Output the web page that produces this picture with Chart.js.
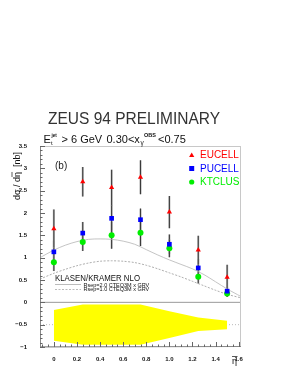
<!DOCTYPE html>
<html>
<head>
<meta charset="utf-8">
<script src="https://cdn.jsdelivr.net/npm/chart.js@4"></script>
<style>
  html, body { margin: 0; padding: 0; background: #fff; }
  #wrap { width: 289px; height: 374px; }
</style>
</head>
<body>
<div id="wrap"><canvas id="c" width="289" height="374"></canvas></div>
<script>
// eta bins
const etaBins = [0, 0.25, 0.5, 0.75, 1.0, 1.25, 1.5];

const eucell = [1.65, 2.7, 2.57, 2.8, 2.02, 1.17, 0.56];
const eucellErr = [0.43, 0.33, 0.4, 0.38, 0.36, 0.32, 0.28];
const pucell = [1.13, 1.55, 1.88, 1.85, 1.3, 0.77, 0.25];
const pucellErr = [0.25, 0.25, 0.3, 0.25, 0.22, 0.2, 0.1];
const ktclus = [0.9, 1.35, 1.5, 1.56, 1.21, 0.57, 0.2];
const ktclusErr = [0.2, 0.2, 0.3, 0.3, 0.2, 0.15, 0.08];

// NLO curves
const curveX = [-0.12, 0, 0.1, 0.2, 0.3, 0.4, 0.5, 0.6, 0.7, 0.8, 0.9, 1.0, 1.1, 1.2, 1.3, 1.4, 1.5, 1.62];
const rsep20 = [1.0, 1.17, 1.28, 1.36, 1.41, 1.42, 1.41, 1.37, 1.3, 1.18, 1.06, 0.95, 0.85, 0.75, 0.62, 0.46, 0.3, 0.13];
const rsep10 = [0.52, 0.65, 0.74, 0.82, 0.88, 0.92, 0.93, 0.92, 0.89, 0.83, 0.75, 0.66, 0.57, 0.47, 0.37, 0.27, 0.18, 0.1];

// energy scale uncertainty band, centred on -0.5
const bandUpper = [-0.17, -0.05, -0.05, -0.05, -0.2, -0.34, -0.41];
const bandLower = [-0.86, -0.95, -0.95, -0.95, -0.8, -0.64, -0.6];

const xMajor = [0, 0.2, 0.4, 0.6, 0.8, 1.0, 1.2, 1.4, 1.6];
const yMajor = [-1, -0.5, 0, 0.5, 1, 1.5, 2, 2.5, 3, 3.5];

const pts = (xs, ys) => xs.map((x, i) => ({ x: x, y: ys[i] }));

const FONT = '"Liberation Sans", Arial, sans-serif';

const extras = {
  id: "extras",
  beforeDatasetsDraw(chart) {
    const ctx = chart.ctx;
    const xs = chart.scales.x, ys = chart.scales.y;
    const a = chart.chartArea;
    ctx.save();
    // zero line and -0.5 dotted line
    ctx.strokeStyle = "#999";
    ctx.lineWidth = 1;
    ctx.beginPath();
    ctx.moveTo(a.left, ys.getPixelForValue(0));
    ctx.lineTo(a.right, ys.getPixelForValue(0));
    ctx.stroke();
    ctx.setLineDash([1, 2]);
    ctx.strokeStyle = "#bbb";
    ctx.beginPath();
    ctx.moveTo(a.left, ys.getPixelForValue(-0.5));
    ctx.lineTo(a.right, ys.getPixelForValue(-0.5));
    ctx.stroke();
    ctx.setLineDash([]);
    // error bars
    const series = [[pucell, pucellErr], [ktclus, ktclusErr], [eucell, eucellErr]];
    series.forEach(([vals, errs]) => {
      vals.forEach((v, i) => {
        const px = xs.getPixelForValue(etaBins[i]);
        ctx.strokeStyle = "#c4c4c4";
        ctx.lineWidth = 2.2;
        ctx.beginPath();
        ctx.moveTo(px, ys.getPixelForValue(v - errs[i]));
        ctx.lineTo(px, ys.getPixelForValue(v + errs[i]));
        ctx.stroke();
        ctx.strokeStyle = "#3a3a3a";
        ctx.lineWidth = 1.1;
        ctx.beginPath();
        ctx.moveTo(px, ys.getPixelForValue(v - errs[i]));
        ctx.lineTo(px, ys.getPixelForValue(v + errs[i]));
        ctx.stroke();
      });
    });
    ctx.restore();
  },
  afterDraw(chart) {
    const ctx = chart.ctx;
    const xs = chart.scales.x, ys = chart.scales.y;
    const a = chart.chartArea;
    ctx.save();
    // frame
    ctx.strokeStyle = "#c8c8c8";
    ctx.lineWidth = 1;
    ctx.strokeRect(a.left + 0.5, a.top + 0.5, a.right - a.left - 1, a.bottom - a.top - 1);
    ctx.strokeStyle = "#888";
    ctx.beginPath();
    ctx.moveTo(a.left + 0.5, a.top);
    ctx.lineTo(a.left + 0.5, a.bottom);
    ctx.lineTo(a.right, a.bottom - 0.5);
    ctx.stroke();
    // inward ticks
    ctx.strokeStyle = "#666";
    for (let k = -2; k <= 32; k++) {
      const v = k * 0.05;
      if (v < xs.min || v > xs.max) continue;
      const px = Math.round(xs.getPixelForValue(v)) + 0.5;
      const len = (k % 4 === 0) ? 5 : 2.5;
      ctx.beginPath();
      ctx.moveTo(px, a.bottom);
      ctx.lineTo(px, a.bottom - len);
      ctx.stroke();
    }
    for (let k = -10; k <= 35; k++) {
      const v = k * 0.1;
      const py = Math.round(ys.getPixelForValue(v)) + 0.5;
      const len = (k % 5 === 0) ? 5 : 2.5;
      ctx.beginPath();
      ctx.moveTo(a.left, py);
      ctx.lineTo(a.left + len, py);
      ctx.stroke();
    }

    ctx.fillStyle = "#333";
    ctx.textBaseline = "alphabetic";
    ctx.textAlign = "left";
    // title
    ctx.font = "17px " + FONT;
    ctx.fillText("ZEUS 94 PRELIMINARY", 48, 124, 172);
    // subtitle
    const by = 142.5;
    ctx.fillStyle = "#111";
    ctx.font = "11px " + FONT;
    ctx.fillText("E", 43.5, by);
    ctx.font = "6px " + FONT;
    ctx.fillText("t", 51, by + 2);
    ctx.font = "bold 4.5px " + FONT;
    ctx.fillText("jet", 51.5, by - 5.5);
    ctx.font = "11px " + FONT;
    ctx.fillText("> 6 GeV", 61.5, by);
    ctx.fillText("0.30<x", 106.5, by);
    ctx.font = "6.5px " + FONT;
    ctx.fillText("\u03B3", 140.5, by + 2);
    ctx.font = "bold 5.5px " + FONT;
    ctx.fillText("OBS", 144, by - 5.5);
    ctx.font = "11px " + FONT;
    ctx.fillText("<0.75", 158, by, 30);

    // (b)
    ctx.fillStyle = "#222";
    ctx.font = "10px " + FONT;
    ctx.fillText("(b)", 55, 169);

    // legend
    const leg = [["EUCELL", "#ff0000", "triangle"], ["PUCELL", "#0000ff", "rect"], ["KTCLUS", "#00ee00", "circle"]];
    leg.forEach(([name, col, shape], i) => {
      const y = 155 + i * 13.5;
      ctx.fillStyle = col;
      ctx.beginPath();
      if (shape === "triangle") {
        ctx.moveTo(191.7, y - 2.5); ctx.lineTo(194.3, y + 2); ctx.lineTo(189.1, y + 2); ctx.closePath();
      } else if (shape === "rect") {
        ctx.rect(189.2, y - 2.5, 5, 5);
      } else {
        ctx.arc(191.7, y, 2.6, 0, Math.PI * 2);
      }
      ctx.fill();
      ctx.font = "10px " + FONT;
      ctx.textBaseline = "middle";
      ctx.fillText(name, 200, y + 0.5);
    });

    // theory legend
    ctx.textBaseline = "alphabetic";
    ctx.fillStyle = "#111";
    ctx.font = "8.5px " + FONT;
    ctx.fillText("KLASEN/KRAMER NLO", 55, 281, 85);
    ctx.font = "5.5px " + FONT;
    ctx.fillText("Rsep=2.0 CTEQ3M x GRV", 83.5, 286.5, 67);
    ctx.fillText("Rsep=1.0 CTEQ3M x GRV", 83.5, 291, 67);
    ctx.lineWidth = 0.8;
    ctx.strokeStyle = "#aaa";
    ctx.beginPath();
    ctx.moveTo(55, 284.5); ctx.lineTo(81, 284.5);
    ctx.stroke();
    ctx.setLineDash([2, 1.5]);
    ctx.beginPath();
    ctx.moveTo(55, 289.5); ctx.lineTo(81, 289.5);
    ctx.stroke();
    ctx.setLineDash([]);

    // y axis title
    ctx.save();
    ctx.translate(19.5, 176);
    ctx.rotate(-Math.PI / 2);
    ctx.fillStyle = "#111";
    ctx.font = "9px " + FONT;
    ctx.textAlign = "left";
    const yt = "d\u03C3 / d\u03B7  [nb]";
    const w = ctx.measureText(yt).width;
    ctx.fillText(yt, -w / 2, 0);
    // overline on eta
    const pre = ctx.measureText("d\u03C3 / d").width;
    const eta = ctx.measureText("\u03B7").width;
    ctx.strokeStyle = "#111";
    ctx.lineWidth = 0.7;
    ctx.beginPath();
    ctx.moveTo(-w / 2 + pre, -7.5);
    ctx.lineTo(-w / 2 + pre + eta, -7.5);
    ctx.stroke();
    ctx.restore();

    // x axis title
    ctx.fillStyle = "#111";
    ctx.font = "9px " + FONT;
    ctx.textAlign = "left";
    ctx.fillText("\u03B7", 232, 364);
    ctx.strokeStyle = "#111";
    ctx.lineWidth = 0.7;
    ctx.beginPath();
    ctx.moveTo(232, 356.5);
    ctx.lineTo(237.5, 356.5);
    ctx.stroke();
    ctx.restore();
  }
};

new Chart(document.getElementById("c"), {
  type: "scatter",
  data: {
    datasets: [
      {
        data: pts(etaBins, bandUpper),
        showLine: true,
        borderWidth: 0,
        pointRadius: 0,
        backgroundColor: "#ffff00",
        fill: "+1",
        order: 10
      },
      {
        data: pts(etaBins, bandLower),
        showLine: true,
        borderWidth: 0,
        pointRadius: 0,
        fill: false,
        order: 10
      },
      {
        data: pts(curveX, rsep20),
        showLine: true,
        borderColor: "#b5b5b5",
        borderWidth: 0.8,
        pointRadius: 0,
        tension: 0.3,
        order: 5
      },
      {
        data: pts(curveX, rsep10),
        showLine: true,
        borderColor: "#9a9a9a",
        borderWidth: 0.8,
        borderDash: [2, 1.5],
        pointRadius: 0,
        tension: 0.3,
        order: 5
      },
      {
        data: pts(etaBins, eucell),
        pointStyle: "triangle",
        pointRadius: 3,
        backgroundColor: "#ff0000",
        borderColor: "#ff0000",
        borderWidth: 0,
        order: 1
      },
      {
        data: pts(etaBins, pucell),
        pointStyle: "rect",
        pointRadius: 3.3,
        backgroundColor: "#0000ff",
        borderColor: "#0000ff",
        borderWidth: 0,
        order: 1
      },
      {
        data: pts(etaBins, ktclus),
        pointStyle: "circle",
        pointRadius: 3,
        backgroundColor: "#00ee00",
        borderColor: "#00ee00",
        borderWidth: 0,
        order: 1
      }
    ]
  },
  options: {
    responsive: false,
    animation: false,
    events: [],
    layout: { padding: { top: 146, right: 48, left: 0, bottom: 0 } },
    plugins: { legend: { display: false }, tooltip: { enabled: false } },
    scales: {
      x: {
        type: "linear",
        min: -0.12,
        max: 1.62,
        afterBuildTicks: s => { s.ticks = xMajor.map(v => ({ value: v })); },
        afterFit: s => { s.height = 27; },
        grid: { display: false },
        border: { display: false },
        ticks: {
          padding: 1,
          color: "#111",
          font: { size: 6, family: FONT, weight: "bold" },
          maxRotation: 0,
          callback: v => (v === 0 ? "0" : v.toFixed(1))
        }
      },
      y: {
        type: "linear",
        min: -1,
        max: 3.5,
        afterBuildTicks: s => { s.ticks = yMajor.map(v => ({ value: v })); },
        afterFit: s => { s.width = 40; },
        grid: { display: false },
        border: { display: false },
        ticks: {
          padding: 5,
          color: "#111",
          font: { size: 6, family: FONT, weight: "bold" },
          callback: v => (v === -1 ? "\u22121" : v === -0.5 ? "\u22120.5" : String(v))
        }
      }
    }
  },
  plugins: [extras]
});
</script>
</body>
</html>
